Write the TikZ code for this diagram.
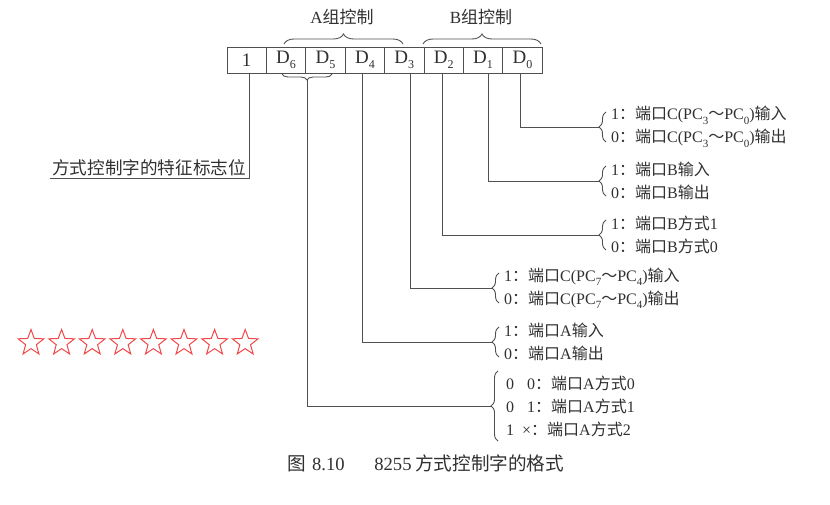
\documentclass[tikz,border=0pt]{standalone}
\usepackage{fontspec}
\setmainfont{Liberation Serif}
\newfontfamily\cjk{Noto Sans CJK SC}
\newcommand\zh[1]{{\cjk #1}}
\newcommand\sbs[1]{\raisebox{-0.28em}{\fontsize{11}{11}\selectfont #1}}
\newcommand\sbc[1]{\raisebox{-0.28em}{\fontsize{12}{12}\selectfont #1}}
\usetikzlibrary{decorations.pathreplacing,shapes.geometric}
\definecolor{linec}{HTML}{505050}
\definecolor{txt}{HTML}{303030}
\definecolor{starred}{HTML}{F04848}
\begin{document}
\begin{tikzpicture}[x=1pt,y=-1pt,
  line/.style={draw=linec, line width=0.9pt},
  cell/.style={draw=linec, line width=0.9pt, minimum width=39.4pt, minimum height=26pt, inner sep=0pt, font=\fontsize{19}{19}\selectfont, text=txt},
  brc/.style={draw=linec, line width=0.9pt, decorate, decoration={brace, amplitude=7pt}},
  grp/.style={anchor=west, align=left, inner sep=0pt, font=\fontsize{16}{23}\selectfont, text=txt},
  lab/.style={inner sep=0pt, font=\fontsize{17}{17}\selectfont, text=txt},
  starbox/.style={star, star points=5, star point ratio=2.4, draw=starred, line width=1pt, minimum size=27pt, inner sep=0pt}
]
\path[use as bounding box] (0,0) rectangle (830,505);

% register cells
\node[cell] (b7) at (246.7,60) {1};
\node[cell] (d6) at (286.1,60) {D\sbc{6}};
\node[cell] (d5) at (325.5,60) {D\sbc{5}};
\node[cell] (d4) at (364.9,60) {D\sbc{4}};
\node[cell] (d3) at (404.3,60) {D\sbc{3}};
\node[cell] (d2) at (443.7,60) {D\sbc{2}};
\node[cell] (d1) at (483.1,60) {D\sbc{1}};
\node[cell] (d0) at (522.5,60) {D\sbc{0}};

% top group braces
\draw[brc, decoration={amplitude=10pt}] (284,44) -- (403,44);
\draw[brc, decoration={amplitude=10pt}] (423,44) -- (541,44);
\node[lab] (ga) at (342,17) {A\zh{组控制}};
\node[lab] (gb) at (481,17) {B\zh{组控制}};

% brace under D6 D5
\draw[brc, decoration={amplitude=6pt, mirror}] (282,74) -- (332,74);
\coordinate (b65) at (307,80);

% feature bit label
\coordinate (fl) at (50,178);
\node[lab, font=\fontsize{17.6}{17.6}\selectfont, anchor=south west] (flab) at (52,176) {\zh{方式控制字的特征标志位}};
\draw[line] ([xshift=3pt]b7.south) |- (fl);

% right-hand groups
\draw[brc] (606,142) -- (606,112);
\coordinate (t0) at (599,127);
\node[grp] (g0) at (611,127) {1\zh{：端口}C(PC\sbs{3}\zh{～}PC\sbs{0})\zh{输入}\\0\zh{：端口}C(PC\sbs{3}\zh{～}PC\sbs{0})\zh{输出}};

\draw[brc] (606,196) -- (606,166);
\coordinate (t1) at (599,181);
\node[grp] (g1) at (611,181) {1\zh{：端口}B\zh{输入}\\0\zh{：端口}B\zh{输出}};

\draw[brc] (606,250) -- (606,220);
\coordinate (t2) at (599,235);
\node[grp] (g2) at (611,235) {1\zh{：端口}B\zh{方式}1\\0\zh{：端口}B\zh{方式}0};

\draw[brc] (499,303) -- (499,273);
\coordinate (t3) at (492,288);
\node[grp] (g3) at (504,288) {1\zh{：端口}C(PC\sbs{7}\zh{～}PC\sbs{4})\zh{输入}\\0\zh{：端口}C(PC\sbs{7}\zh{～}PC\sbs{4})\zh{输出}};

\draw[brc] (499,357) -- (499,327);
\coordinate (t4) at (492,342);
\node[grp] (g4) at (504,342) {1\zh{：端口}A\zh{输入}\\0\zh{：端口}A\zh{输出}};

\draw[brc] (498,441) -- (498,371);
\coordinate (t5) at (491,406);
\node[grp] (g5) at (506,406) {0\hspace{13pt}0\zh{：端口}A\zh{方式}0\\0\hspace{13pt}1\zh{：端口}A\zh{方式}1\\1\hspace{8pt}×\zh{：端口}A\zh{方式}2};

% connectors
\draw[line] ([xshift=-2.5pt]d0.south) |- (t0);
\draw[line] ([xshift=5pt]d1.south) |- (t1);
\draw[line] ([xshift=-1.5pt]d2.south) |- (t2);
\draw[line] ([xshift=6.5pt]d3.south) |- (t3);
\draw[line] ([xshift=-2pt]d4.south) |- (t4);
\draw[line] (b65) |- (t5);

% stars
\foreach \i in {0,...,7}
  \node[starbox] (s\i) at (31+30.6*\i,343) {};

% caption
\node[lab, font=\fontsize{18.6}{18.6}\selectfont] (cap) at (426,463) {\zh{图}\hspace{0.3em}8.10\hspace{1.6em}8255\hspace{0.2em}\zh{方式控制字的格式}};
\end{tikzpicture}
\end{document}
